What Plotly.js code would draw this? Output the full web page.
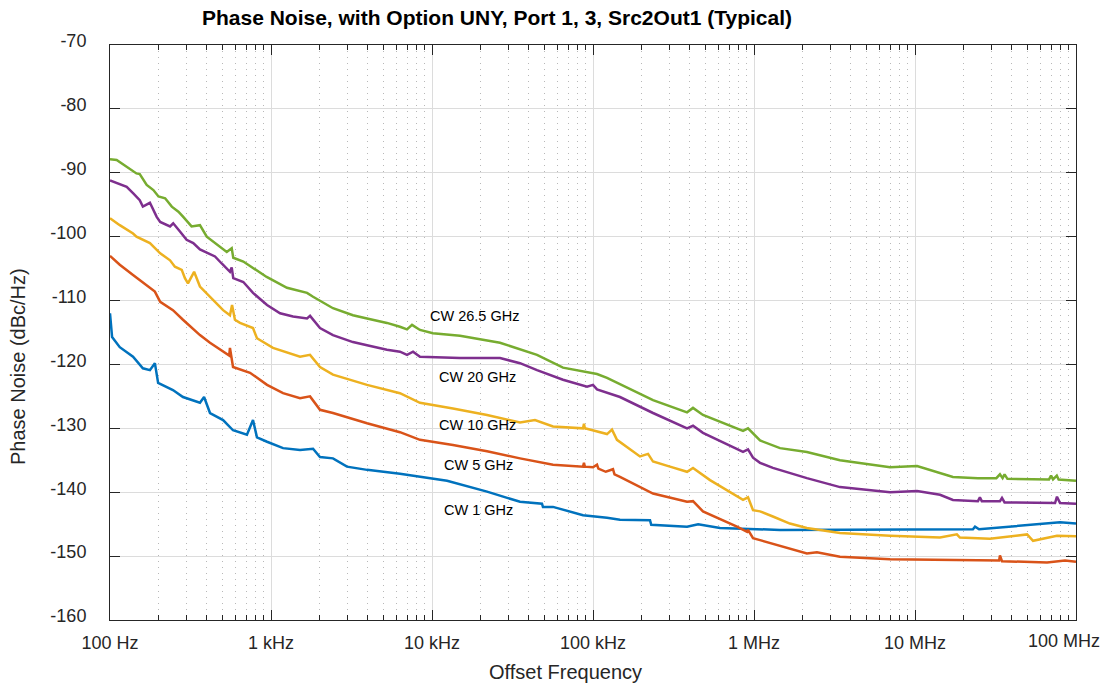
<!DOCTYPE html>
<html>
<head>
<meta charset="utf-8">
<script src="https://cdn.plot.ly/plotly-3.0.1.min.js"></script>
<style>html,body{margin:0;padding:0;background:#fff;}#chart{width:1107px;height:685px;}</style>
</head>
<body>
<div id="chart"></div>
<script>
// ---- Data (offset frequency in Hz, phase noise in dBc/Hz) ----
const seriesNames = ['CW 1 GHz', 'CW 5 GHz', 'CW 10 GHz', 'CW 20 GHz', 'CW 26.5 GHz'];

const freq1 = [100,103,115,139,160,177,190,199,246,284,362,384,418,504,581,709,773,818,945,1188,1515,1825,2015,2426,2963,3948,6324,8419,12400,21970,35210,48200,48880,56450,86700,122200,147100,226000,230000,383900,450000,614800,1.45e6,2.29e7,2.36e7,2.5e7,3.73e7,5.97e7,7.96e7,1e8];
const pn1   = [-112,-115.7,-117.3,-118.8,-120.6,-120.9,-119.8,-122.9,-124,-125.1,-126,-125.1,-127.6,-128.7,-130.3,-131,-128.7,-131.4,-132.1,-133.1,-133.4,-133.2,-134.5,-134.7,-136,-136.5,-137.1,-137.6,-138.2,-139.9,-141.5,-141.8,-142.3,-142.3,-143.6,-144,-144.3,-144.4,-145.1,-145.4,-145.0,-145.6,-145.9,-145.8,-145.4,-145.8,-145.4,-144.9,-144.7,-144.9];

const freq5 = [100,115,139,177,190,205,246,284,362,418,504,550,556,581,741,945,1188,1515,1748,2015,2426,3948,6324,8419,13490,21970,35210,56450,86700,87900,89000,100000,105900,108000,120000,133100,136000,147100,235900,383900,418000,482000,783700,905400,918000,986100,1.09e6,1.31e6,2.13e6,2.46e6,3.42e6,7.0e6,2.29e7,3.33e7,3.37e7,3.47e7,6.61e7,8.55e7,1e8];
const pn5   = [-103,-104.4,-106,-108,-108.6,-110.2,-111.5,-113,-115.4,-116.6,-118,-118.6,-117.4,-120.4,-121.3,-123.2,-124.5,-125.3,-125,-127.1,-127.6,-129.2,-130.6,-131.8,-132.6,-133.6,-134.7,-135.7,-136,-135.4,-136,-136.1,-135.7,-136.3,-136.8,-136.4,-137.2,-137.6,-140.2,-141.5,-141.4,-143,-145.4,-146.2,-145.9,-147.2,-147.5,-148.1,-149.6,-149.4,-150.1,-150.5,-150.7,-150.7,-149.9,-150.8,-151.0,-150.7,-150.9];

const freq10 = [100,115,139,146,177,205,236,253,279,292,305,333,362,418,504,556,573,597,642,773,818,1029,1515,1748,2015,2426,3948,6324,8419,13490,21970,35210,43600,56450,86700,87900,89000,122200,131200,140900,195800,219800,235900,300600,383900,418000,533200,854600,918000,986100,1.09e6,1.31e6,1.67e6,2.13e6,3.42e6,7.0e6,1.43e7,1.82e7,1.9e7,2.92e7,4.97e7,5.41e7,7.62e7,1e8];
const pn10   = [-97.1,-98.2,-99.5,-100,-101,-102.6,-103.7,-104.7,-105.2,-106.5,-107.3,-105.5,-107.8,-109.4,-111.5,-112.3,-110.7,-113.0,-113.5,-114.3,-115.9,-117.4,-118.8,-118.5,-120.4,-121.6,-123.2,-124.5,-126,-126.9,-127.9,-129.1,-128.7,-129.7,-130,-129.3,-130,-130.9,-130.2,-131.8,-134.4,-134,-135.2,-136,-136.8,-136.2,-138.1,-141.2,-140.8,-142.8,-143.0,-143.8,-144.9,-145.6,-146.4,-146.8,-147.1,-146.6,-147.1,-147.3,-146.6,-147.6,-146.8,-146.9];

const freq20 = [100,115,127,139,153,160,177,195,205,236,247,272,299,329,362,399,449,494,556,570,583,673,773,945,1138,1371,1675,1748,2015,2426,3228,3948,5250,6324,6997,7625,8419,14920,26450,35210,44900,65100,91820,100000,105900,147100,235900,383900,418000,482000,854600,918000,986100,1.09e6,1.31e6,2.13e6,3.42e6,7.0e6,1.03e7,1.43e7,1.72e7,2.46e7,2.53e7,2.6e7,3.37e7,3.47e7,3.6e7,7.41e7,7.62e7,7.96e7,1e8];
const pn20   = [-91.2,-91.8,-92.2,-93.2,-94.3,-95.3,-94.7,-96.9,-97.7,-98.4,-97.9,-99.2,-100.5,-101,-102,-102.5,-103.1,-104.2,-105.5,-104.8,-106.5,-107.1,-108.8,-110.7,-112,-112.5,-112.8,-112.4,-114.3,-115.4,-116.5,-117,-117.7,-118,-118.5,-118,-118.8,-119,-119,-119.8,-120.9,-122.4,-123.5,-123.2,-123.9,-125.1,-127.6,-130,-129.6,-130.7,-133.7,-133.3,-134.6,-135.4,-136.2,-137.8,-139.2,-140,-139.8,-140.4,-141.2,-141.4,-140.8,-141.4,-141.4,-140.9,-141.6,-141.7,-140.7,-141.7,-141.8];

const freq26 = [100,110,146,153,169,186,200,220,242,266,285,321,362,399,531,570,583,673,940,1257,1675,1825,2426,3228,3948,5250,6324,6997,7515,8419,10130,14920,26450,44900,65100,100000,105900,122200,235900,383900,418000,482000,854600,918000,986100,1.09e6,1.45e6,2.13e6,3.42e6,7.0e6,1.03e7,1.72e7,2.46e7,3.2e7,3.37e7,3.5e7,3.6e7,3.75e7,6.8e7,7.0e7,7.2e7,7.6e7,7.8e7,1e8];
const pn26   = [-87.9,-88.0,-90.1,-90.2,-91.9,-92.7,-93.7,-94.0,-95.3,-96.1,-96.9,-98.4,-98.2,-100,-102.4,-101.8,-103.3,-103.9,-106.3,-108,-108.8,-109.4,-111.2,-112.3,-112.8,-113.5,-114.1,-114.5,-113.8,-114.6,-115.1,-115.5,-116.6,-118.5,-120.5,-121.3,-121.5,-122.1,-125.6,-127.5,-126.8,-127.9,-130.4,-130.0,-130.8,-131.9,-133.1,-133.7,-135,-136.1,-135.9,-137.6,-137.8,-137.8,-137.2,-137.8,-137.2,-137.9,-138.0,-137.4,-138.0,-137.4,-138.0,-138.2];

const xTickVals = [1e2, 1e3, 1e4, 1e5, 1e6, 1e7, 1e8];
const xTickText = ['100 Hz', '1 kHz', '10 kHz', '100 kHz', '1 MHz', '10 MHz', '100 MHz'];
const yTickVals = [-160, -150, -140, -130, -120, -110, -100, -90, -80, -70];
const yTickText = ['-160', '-150', '-140', '-130', '-120', '-110', '-100', '-90', '-80', '-70'];

// ---- Styling ----
const colors = ['#0072BD', '#D95319', '#EDB120', '#7E2F8E', '#77AC30'];
const xs = [freq1, freq5, freq10, freq20, freq26];
const ys = [pn1, pn5, pn10, pn20, pn26];

const traces = xs.map((x, i) => ({
  type: 'scatter', mode: 'lines', x: x, y: ys[i], name: seriesNames[i],
  line: {color: colors[i], width: 2.5, shape: 'linear'}, hoverinfo: 'x+y+name'
}));

// minor tick positions (2..9 x each decade)
const minorVals = [];
for (let d = 2; d < 8; d++) for (let k = 2; k <= 9; k++) minorVals.push(k * Math.pow(10, d));

const FONT = 'Liberation Sans, Arial, sans-serif';
const txt = '#262626';

// the last x tick label sits inside the figure edge (as in the original), so it is drawn as an annotation
const lastIdx = xTickText.length - 1;
const shownTickText = xTickText.map((t, i) => (i === lastIdx ? '' : t));

// label anchors (x in log10 units, y in dB)
const labelPos = [[4.062, -142.8], [4.062, -135.7], [4.031, -129.5], [4.031, -122.0], [3.975, -112.4]];
const annotations = seriesNames.map((s, i) => ({
  x: labelPos[i][0], y: labelPos[i][1], xref: 'x', yref: 'y', text: s, showarrow: false,
  xanchor: 'left', yanchor: 'middle', font: {family: FONT, size: 14.5, color: '#000'}
}));
annotations.push({
  xref: 'paper', yref: 'paper', x: 1, y: 0, xshift: 26, yshift: -21,
  text: xTickText[lastIdx], showarrow: false,
  xanchor: 'right', yanchor: 'middle', font: {family: FONT, size: 18, color: txt}
});
annotations.push({
  xref: 'paper', yref: 'paper', x: 0.472, y: -0.0904, text: 'Offset Frequency', showarrow: false,
  xanchor: 'center', yanchor: 'middle', font: {family: FONT, size: 20, color: txt}
});
annotations.push({
  xref: 'paper', yref: 'paper', x: -0.0952, y: 0.44, text: 'Phase Noise (dBc/Hz)', showarrow: false,
  textangle: -90, xanchor: 'center', yanchor: 'middle', font: {family: FONT, size: 20, color: txt}
});

const layout = {
  width: 1107, height: 685,
  margin: {l: 110, r: 31, t: 45, b: 65, pad: 0},
  paper_bgcolor: '#ffffff', plot_bgcolor: '#ffffff',
  showlegend: false,
  title: {
    text: '<b>Phase Noise, with Option UNY, Port 1, 3, Src2Out1 (Typical)</b>',
    font: {family: FONT, size: 21, color: '#000'},
    x: 0.4006, xref: 'paper', xanchor: 'center', y: 0.974, yref: 'container', yanchor: 'middle'
  },
  xaxis: {
    type: 'log', range: [2, 8], tickmode: 'array', tickvals: xTickVals, ticktext: shownTickText,
    showline: true, linecolor: txt, linewidth: 1, mirror: 'ticks',
    ticks: 'inside', ticklen: 10, tickcolor: txt, tickwidth: 1,
    showgrid: true, gridcolor: '#dcdcdc', gridwidth: 1,
    tickfont: {family: FONT, size: 18, color: txt}, ticklabelstandoff: 6,
    zeroline: false,
    minor: {tickmode: 'array', tickvals: minorVals, ticks: 'inside', ticklen: 5, tickcolor: txt,
            showgrid: true, gridcolor: '#b8b8b8', gridwidth: 1, griddash: '1px,5px'}
  },
  yaxis: {
    range: [-160, -70], tickmode: 'array', tickvals: yTickVals, ticktext: yTickText,
    showline: true, linecolor: txt, linewidth: 1, mirror: 'ticks',
    ticks: 'inside', ticklen: 10, tickcolor: txt, tickwidth: 1,
    showgrid: true, gridcolor: '#dcdcdc', gridwidth: 1,
    tickfont: {family: FONT, size: 18, color: txt}, ticklabelstandoff: 19, ticklabelshift: -4,
    zeroline: false
  },
  annotations: annotations
};

Plotly.newPlot('chart', traces, layout, {displayModeBar: false, staticPlot: true});
</script>
</body>
</html>
